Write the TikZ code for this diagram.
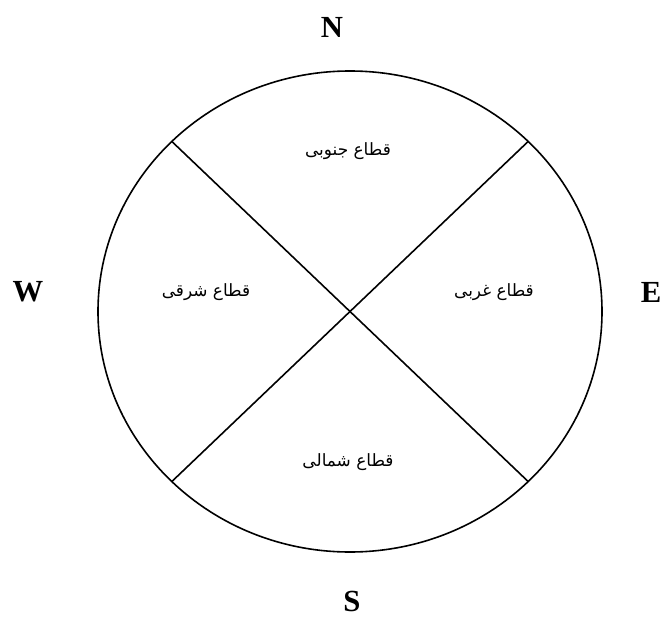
\documentclass[tikz,border=0pt]{standalone}
\usepackage{fontspec}
\setmainfont{Liberation Serif}
\newfontfamily\arabicfont[Script=Arabic]{DejaVu Sans}
\TeXXeTstate=1
\usetikzlibrary{calc}
\tikzset{
  rim/.style   ={draw=black,line width=1.2pt},
  cut/.style   ={black,line width=1.2pt},
  pole/.style  ={font=\fontsize{23}{25}\selectfont\bfseries,inner sep=0pt},
  sector/.style={font=\arabicfont\fontsize{12.7}{14}\selectfont,inner sep=0pt},
}

\begin{document}
\begin{tikzpicture}[x=0.75pt,y=-0.75pt]
\useasboundingbox (0,0) rectangle (661,617);
\coordinate (c) at (350,311.5);
\draw[rim] (c) ellipse [x radius=252,y radius=240.5];
% chord ends on the rim
\foreach \a/\n in {45/se, 135/sw, 225/nw, 315/ne}
  { \coordinate (\n) at ($(c)+(\a:252 and 240.5)$); }
\draw[cut] (nw) -- (se);
\draw[cut] (ne) -- (sw);

% compass letters
\node[pole] (pN) at (332,27)  {N};
\node[pole] (pS) at (352,601) {S};
\node[pole] (pW) at (28,292)  {W};
\node[pole] (pE) at (651,292) {E};

% sector names
\node[sector] (secN) at (348,151) {\beginR قطاع جنوبی\endR};
\node[sector] (secS) at (348,462) {\beginR قطاع شمالی\endR};
\node[sector] (secE) at (494,292) {\beginR قطاع غربی\endR};
\node[sector] (secW) at (206,292) {\beginR قطاع شرقی\endR};
\end{tikzpicture}
\end{document}
